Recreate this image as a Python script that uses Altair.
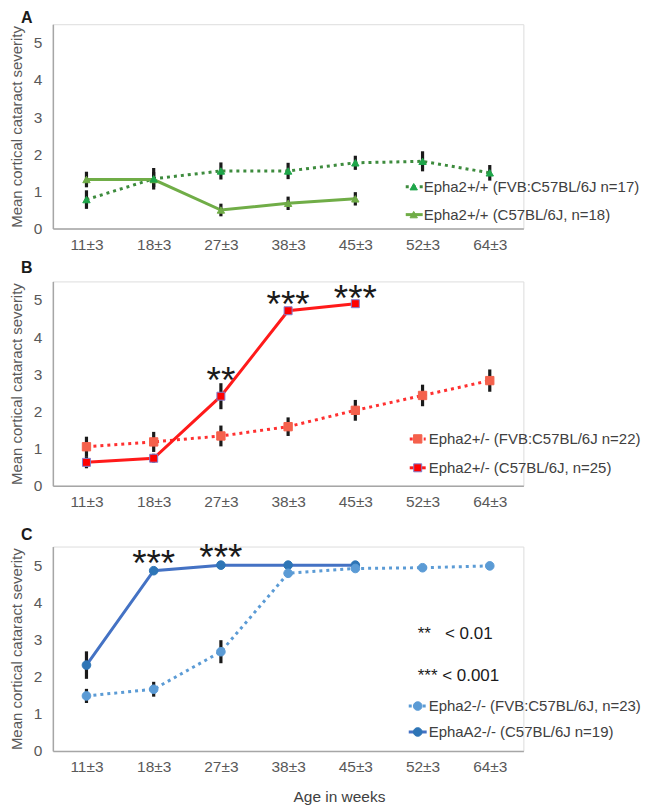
import altair as alt
import pandas as pd

AGES = ["11±3", "18±3", "27±3", "38±3", "45±3", "52±3", "64±3"]

# Panel A
A_FVB_MEAN = [0.78, 1.34, 1.55, 1.55, 1.77, 1.81, 1.50]
A_FVB_ERR = [0.25, 0.29, 0.23, 0.22, 0.19, 0.27, 0.21]
A_C57_MEAN = [1.32, 1.32, 0.50, 0.68, 0.80]
A_C57_ERR = [0.21, 0.20, 0.17, 0.18, 0.18]

# Panel B
B_FVB_MEAN = [1.05, 1.18, 1.34, 1.59, 2.03, 2.43, 2.83]
B_FVB_ERR = [0.27, 0.27, 0.28, 0.25, 0.28, 0.29, 0.30]
B_C57_MEAN = [0.63, 0.74, 2.41, 4.71, 4.90]
B_C57_ERR = [0.16, 0.12, 0.35, 0.0, 0.0]

# Panel C
C_FVB_MEAN = [1.48, 1.66, 2.67, 4.78, 4.91, 4.93, 4.98]
C_FVB_ERR = [0.19, 0.20, 0.31, 0.10, 0.08, 0.0, 0.0]
C_C57_MEAN = [2.31, 4.85, 5.00, 5.00, 5.00]
C_C57_ERR = [0.37, 0.0, 0.0, 0.0, 0.0]

# significance stars (age, label level, text)
B_STAR_AGE = ["27±3", "38±3", "45±3"]
B_STAR_LEVEL = [3.05, 5.1, 5.28]
B_STAR_TEXT = ["**", "***", "***"]
C_STAR_AGE = ["18±3", "27±3"]
C_STAR_LEVEL = [5.26, 5.42]
C_STAR_TEXT = ["***", "***"]

LEG_A = ["Epha2+/+ (FVB:C57BL/6J n=17)", "Epha2+/+ (C57BL/6J, n=18)"]
LEG_B = ["Epha2+/- (FVB:C57BL/6J n=22)", "Epha2+/- (C57BL/6J, n=25)"]
LEG_C = ["Epha2-/- (FVB:C57BL/6J, n=23)", "EphaA2-/- (C57BL/6J n=19)"]
NOTES = ["**\u00a0\u00a0\u00a0< 0.01", "***\u00a0< 0.001"]

W, H = 472, 205
FONT = "Liberation Sans"
YTITLE = "Mean cortical cataract severity"
TICK_FS = 15.5
LEG_FS = 15


def x_enc(field="age", xtitle=False):
    common = dict(labelAngle=0, ticks=False, labelPadding=9, labelFontSize=TICK_FS,
                  labelColor="#595959", domainColor="#a6a6a6", domainWidth=1.5)
    if xtitle:
        ax = alt.Axis(title="Age in weeks", titleX=287, titleY=51, titleAlign="center",
                      titleBaseline="alphabetic", titleFontSize=15.5, titleFontWeight="normal",
                      titleColor="#404040", **common)
    else:
        ax = alt.Axis(title=None, **common)
    return alt.X(f"{field}:N", sort=AGES,
                 scale=alt.Scale(type="point", domain=AGES, padding=0.5), axis=ax)


def y_enc(field):
    return alt.Y(f"{field}:Q", scale=alt.Scale(domain=[0, 5.5], nice=False, zero=True),
                 axis=alt.Axis(title=YTITLE, values=[0, 1, 2, 3, 4, 5], ticks=False,
                               grid=False, labelPadding=11, labelFontSize=TICK_FS,
                               labelColor="#595959", titleFontSize=15,
                               titleFontWeight="normal", titleColor="#595959",
                               titlePadding=9, domainColor="#a6a6a6", domainWidth=1.5))


def series_df(mean, err):
    n = len(mean)
    return pd.DataFrame({
        "age": AGES[:n],
        "value": mean,
        "err": err,
        "lo": [m - e for m, e in zip(mean, err)],
        "hi": [m + e for m, e in zip(mean, err)],
    })


def panel(letter, letter_y, series, stars, legend, leg_geom, xtitle=False, notes=None):
    lines, bars, marks, legs = [], [], [], []
    lx0, lx1, lmx, ltx, lys = leg_geom
    for i, s in enumerate(series):
        df = series_df(s["mean"], s["err"])
        line_kw = dict(color=s["line"], strokeWidth=3)
        if s["dash"]:
            line_kw["strokeDash"] = [3, 4]
        lines.append(alt.Chart(df).mark_line(**line_kw).encode(x=x_enc(xtitle=xtitle), y=y_enc("value")))
        dfe = df[df["err"] > 0]
        bars.append(alt.Chart(dfe).mark_rule(color="#1a1a1a", strokeWidth=3.2).encode(
            x=x_enc(xtitle=xtitle), y=y_enc("lo"), y2="hi:Q"))
        marks.append(alt.Chart(df).mark_point(
            shape=s["shape"], filled=True, size=s["size"], color=s["marker"], opacity=1,
            stroke=s.get("mstroke", s["marker"]), strokeWidth=1).encode(
            x=x_enc(xtitle=xtitle), y=y_enc("value")))
        # legend entry
        ly = lys[i]
        ldf = pd.DataFrame({"t": [legend[i]]})
        rule_kw = dict(color=s["line"], strokeWidth=3)
        if s["dash"]:
            rule_kw["strokeDash"] = [3, 4]
        legs.append(alt.Chart(ldf).mark_rule(**rule_kw).encode(
            x=alt.value(lx0), x2=alt.value(lx1), y=alt.value(ly)))
        legs.append(alt.Chart(ldf).mark_point(
            shape=s["shape"], filled=True, size=s["size"], color=s["marker"], opacity=1,
            stroke=s.get("mstroke", s["marker"]), strokeWidth=1).encode(
            x=alt.value(lmx), y=alt.value(ly)))
        legs.append(alt.Chart(ldf).mark_text(
            align="left", baseline="middle", fontSize=LEG_FS, color="#404040", font=FONT).encode(
            x=alt.value(ltx), y=alt.value(ly), text="t:N"))
    layers = lines + bars + marks[::-1] + legs
    if stars is not None:
        sdf = pd.DataFrame({"age": stars[0], "level": stars[1], "txt": stars[2]})
        layers.append(alt.Chart(sdf).mark_text(
            fontSize=37, baseline="alphabetic", dy=21, color="#1a1a1a", font=FONT).encode(
            x=x_enc(xtitle=xtitle), y=y_enc("level"), text="txt:N"))
    if notes is not None:
        for j, t in enumerate(notes):
            ndf = pd.DataFrame({"t": [t]})
            layers.append(alt.Chart(ndf).mark_text(
                align="left", baseline="middle", fontSize=17, color="#1a1a1a", font=FONT).encode(
                x=alt.value(366), y=alt.value(88 + 42 * j), text="t:N"))
    ldf = pd.DataFrame({"t": [letter]})
    layers.append(alt.Chart(ldf).mark_text(
        align="left", baseline="top", fontSize=16, fontWeight="bold", color="#1a1a1a",
        font=FONT).encode(x=alt.value(-32), y=alt.value(letter_y), text="t:N"))
    return alt.layer(*layers).properties(width=W, height=H)


pa = panel("A", -14, [
    dict(mean=A_FVB_MEAN, err=A_FVB_ERR, line="#3d8b3d", marker="#1fa64a", shape="triangle-up",
         size=55, dash=True),
    dict(mean=A_C57_MEAN, err=A_C57_ERR, line="#70ad47", marker="#70ad47", shape="triangle-up",
         size=55, dash=False),
], None, LEG_A, (354, 371, 362, 372, [163, 191]))

pb = panel("B", -21, [
    dict(mean=B_FVB_MEAN, err=B_FVB_ERR, line="#ff3030", marker="#f4614c", shape="square",
         size=70, dash=True),
    dict(mean=B_C57_MEAN, err=B_C57_ERR, line="#ff1a1a", marker="#ff0000", mstroke="#7f7fcf",
         shape="square", size=64, dash=False),
], (B_STAR_AGE, B_STAR_LEVEL, B_STAR_TEXT), LEG_B, (358, 374, 366, 377, [158, 187]))

pc = panel("C", -20, [
    dict(mean=C_FVB_MEAN, err=C_FVB_ERR, line="#5b9bd5", marker="#5b9bd5", shape="circle",
         size=75, dash=True),
    dict(mean=C_C57_MEAN, err=C_C57_ERR, line="#4472c4", marker="#2e75b6", shape="circle",
         size=75, dash=False),
], (C_STAR_AGE, C_STAR_LEVEL, C_STAR_TEXT), LEG_C, (357, 375, 366, 377, [160, 186]),
    xtitle=True, notes=NOTES)

chart = alt.vconcat(alt.vconcat(pa, pb, spacing=6), pc, spacing=15).properties(
    padding={"left": 0, "top": 0, "right": 0, "bottom": 0}
).configure_view(stroke=None).configure(font=FONT)

chart.save("out.html", embed_options={"renderer": "svg", "actions": False})
